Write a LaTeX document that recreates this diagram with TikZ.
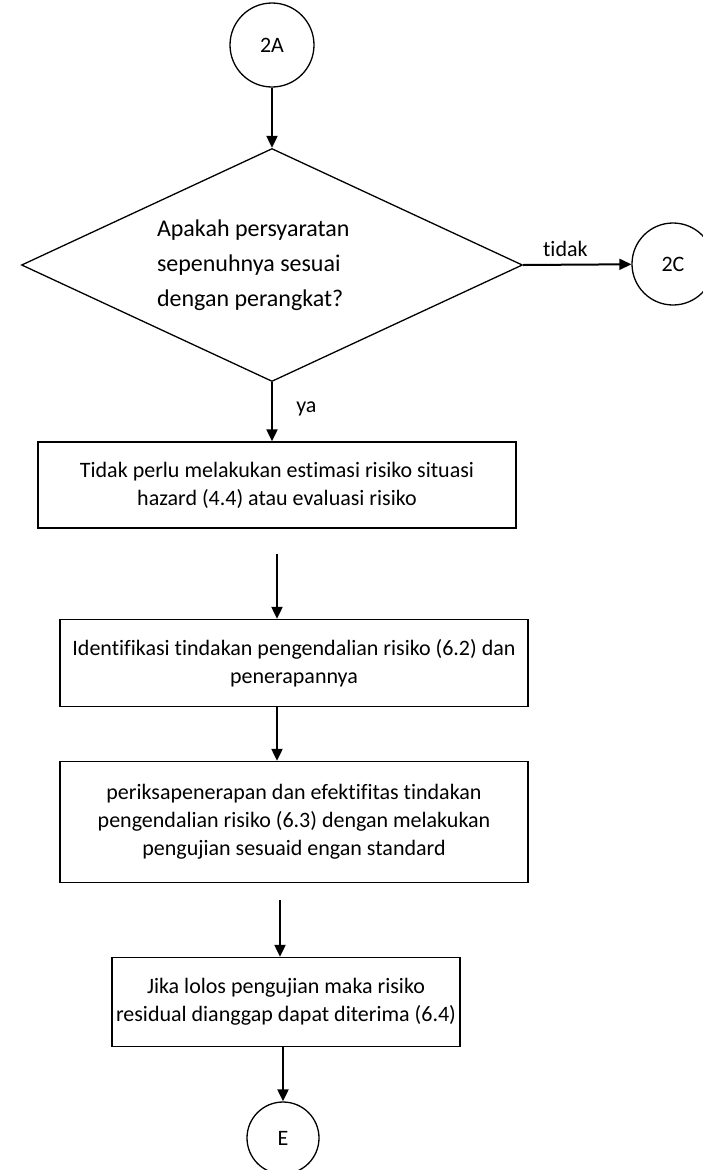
\documentclass[tikz,border=0pt]{standalone}
\usepackage{fontspec}
\setmainfont{Carlito}[Ligatures=NoCommon]
\usetikzlibrary{shapes.geometric,arrows.meta,positioning}
\begin{document}
\begin{tikzpicture}[x=1pt, y=-1pt,
        every node/.style={font=\fontsize{22}{28}\selectfont},
        conn/.style={draw, circle, line width=1.3pt, minimum size=84pt, inner sep=0pt},
        decision/.style={draw, diamond, aspect=2.15, line width=1.3pt, minimum width=501pt,
        minimum height=233pt, inner sep=0pt, text width=230pt, align=flush left,
        font=\fontsize{24}{35}\selectfont},
        process/.style={draw, rectangle, line width=1.3pt, align=flush center, inner sep=0pt},
        arr/.style={line width=2pt, -{Triangle[length=12pt,width=11pt]}},
      ]
      \useasboundingbox (0,0) rectangle (703,1170);
      \node[conn] (s2a) at (272,45) {2A};
      \node[decision] (cek) at (272,265) {Apakah persyaratan\\ sepenuhnya sesuai\\ dengan perangkat?};
      \node[conn, minimum size=82pt] (s2c) at (673,264) {2C};
      \node[process, minimum width=478pt, minimum height=86pt] (b1) at (277,485)
        {Tidak perlu melakukan estimasi risiko situasi\\ hazard (4.4) atau evaluasi risiko};
      \node[process, minimum width=468pt, minimum height=87pt] (b2) at (294,663)
        {Identifikasi tindakan pengendalian risiko (6.2) dan\\ penerapannya};
      \node[process, minimum width=468pt, minimum height=121pt] (b3) at (294,822)
        {periksapenerapan dan efektifitas tindakan\\ pengendalian risiko (6.3) dengan melakukan\\ pengujian sesuaid engan standard};
      \node[process, minimum width=348pt, minimum height=89pt] (b4) at (286,1002)
        {Jika lolos pengujian maka risiko\\ residual dianggap dapat diterima (6.4)};
      \node[conn, minimum size=72pt] (e) at (283,1138) {E};

      \draw[arr] (s2a) -- (cek);
      \draw[arr] (cek.east) -- node[above=4pt, pos=0.39] {tidak} (s2c);
      \draw[arr] (cek.south) -- node[pos=0.45, anchor=west, xshift=20pt] {ya} (cek.south |- b1.north);
      \draw[arr, shorten <=25pt] (b1.south) -- (b1.south |- b2.north);
      \draw[arr] (b2.south -| b1.south) -- (b3.north -| b1.south);
      \draw[arr, shorten <=17pt] (b3.south -| 280,0) -- (b4.north -| 280,0);
      \draw[arr] (b4.south -| e.north) -- (e);
    \end{tikzpicture}
\end{document}
